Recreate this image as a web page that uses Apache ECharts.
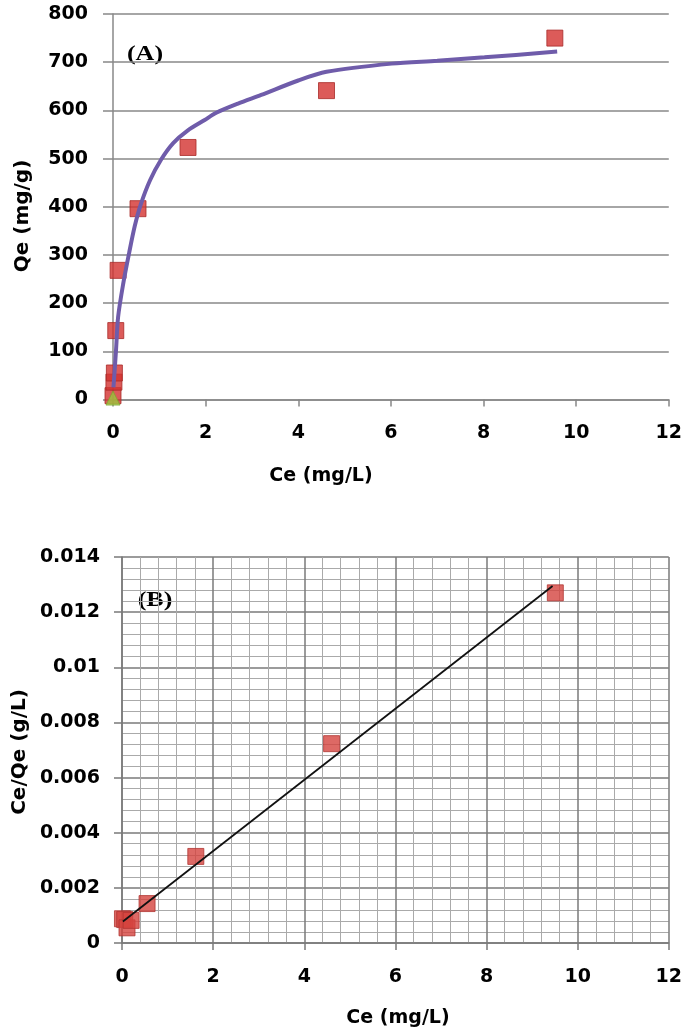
<!DOCTYPE html>
<html>
<head>
<meta charset="utf-8">
<script src="https://cdn.jsdelivr.net/npm/echarts@6/dist/echarts.min.js"></script>
<style>
  html, body { margin: 0; padding: 0; background: #fff; }
  #chart { width: 685px; height: 1035px; }
</style>
</head>
<body>
<div id="chart"></div>
<script>
// (A) Qe vs Ce, experimental points
const ceA = [0.0, 0.02, 0.03, 0.06, 0.11, 0.54, 1.62, 4.61, 9.54]
const qeA = [8, 36, 55, 143, 268, 396, 523, 641, 750]
// (A) fitted curve
const fitCeA = [0.01, 0.065, 0.11, 0.22, 0.35, 0.47, 0.6, 0.8, 1.04, 1.3, 1.61, 1.98, 2.23, 2.7, 3.2, 4.0, 4.61, 6.02, 7.0, 8.02, 9.59]
const fitQeA = [25, 102, 171, 240, 305, 360, 405, 455, 498, 532, 558, 580, 595, 614, 632, 662, 680, 697, 703, 710, 722]
// (A) green triangle at origin
const ceTri = [0.0]
const qeTri = [3]

// (B) Ce/Qe vs Ce
const ceB = [0.01, 0.06, 0.11, 0.2, 0.55, 1.62, 4.60, 9.51]
const ratioB = [0.00088, 0.00085, 0.00055, 0.00082, 0.00143, 0.00314, 0.00723, 0.0127]
// (B) linear fit end points
const fitCeB = [0.02, 9.45]
const fitRatioB = [0.00078, 0.01295]

const xTicks = [0, 2, 4, 6, 8, 10, 12]

const zip = (a, b) => a.map((v, i) => [v, b[i]])

const labelFont = {
  fontFamily: 'DejaVu Sans',
  fontWeight: 'bold',
  fontSize: 19,
  color: '#000'
}
const gridGray = '#888'
const gridGrayB = '#7a7a7a'

const textEl = (x, y, text, opts) => ({
  type: 'text', x, y,
  rotation: opts.rotation || 0,
  scaleX: opts.scaleX || 1,
  style: {
    text,
    fontFamily: opts.family || 'DejaVu Sans',
    fontWeight: 'bold',
    fontSize: opts.size || 19,
    fill: '#000',
    align: 'center',
    verticalAlign: 'middle'
  }
})

const chart = echarts.init(document.getElementById('chart'))

chart.setOption({
  animation: false,
  backgroundColor: '#fff',
  grid: [
    { left: 113, top: 14, width: 558, height: 385.5 },
    { left: 122, top: 557, width: 550, height: 386 }
  ],
  xAxis: [
    {
      gridIndex: 0, type: 'value', min: xTicks[0], max: xTicks[xTicks.length - 1], interval: 2,
      axisLine: { show: true, lineStyle: { color: gridGray, width: 1.5 } },
      axisTick: { show: true, length: 7, lineStyle: { color: gridGray, width: 1.5 } },
      axisLabel: { ...labelFont, margin: 24 },
      splitLine: { show: false }
    },
    {
      gridIndex: 1, type: 'value', min: xTicks[0], max: xTicks[xTicks.length - 1], interval: 2,
      axisLine: { show: true, lineStyle: { color: gridGrayB, width: 1.5 } },
      axisTick: { show: true, length: 7, lineStyle: { color: gridGrayB, width: 1.5 } },
      axisLabel: { ...labelFont, margin: 25 },
      splitLine: { show: true, lineStyle: { color: gridGrayB, width: 1.5 } },
      minorTick: { show: false, splitNumber: 5 },
      minorSplitLine: { show: true, lineStyle: { color: '#aaa', width: 1 } }
    }
  ],
  yAxis: [
    {
      gridIndex: 0, type: 'value', min: 0, max: 800, interval: 100,
      axisLine: { show: true, lineStyle: { color: gridGray, width: 1.5 } },
      axisTick: { show: true, length: 10, lineStyle: { color: gridGray, width: 1.5 } },
      axisLabel: { ...labelFont, margin: 25 },
      splitLine: { show: true, lineStyle: { color: gridGray, width: 1.5 } }
    },
    {
      gridIndex: 1, type: 'value', min: 0, max: 0.014, interval: 0.002,
      axisLine: { show: true, lineStyle: { color: gridGrayB, width: 1.5 } },
      axisTick: { show: true, length: 8, lineStyle: { color: gridGrayB, width: 1.5 } },
      axisLabel: { ...labelFont, margin: 22 },
      splitLine: { show: true, lineStyle: { color: gridGrayB, width: 1.5 } },
      minorTick: { show: false, splitNumber: 5 },
      minorSplitLine: { show: true, lineStyle: { color: '#aaa', width: 1 } }
    }
  ],
  series: [
    {
      name: 'exp A', type: 'scatter', xAxisIndex: 0, yAxisIndex: 0,
      symbol: 'rect', symbolSize: 16,
      itemStyle: { color: '#d3322f', borderColor: '#a82a28', borderWidth: 1 },
      data: zip(ceA, qeA)
    },
    {
      name: 'tri', type: 'scatter', xAxisIndex: 0, yAxisIndex: 0,
      symbol: 'triangle', symbolSize: 14,
      itemStyle: { color: '#9cc53e', borderColor: '#7fa630', borderWidth: 1 },
      data: zip(ceTri, qeTri)
    },
    {
      name: 'fit A', type: 'line', xAxisIndex: 0, yAxisIndex: 0,
      smooth: 0.3, showSymbol: false, z: 5,
      lineStyle: { color: '#6f5caa', width: 4 },
      data: zip(fitCeA, fitQeA)
    },
    {
      name: 'exp B', type: 'scatter', xAxisIndex: 1, yAxisIndex: 1,
      symbol: 'rect', symbolSize: 16,
      itemStyle: { color: '#d5443f', borderColor: '#b03632', borderWidth: 1 },
      data: zip(ceB, ratioB)
    },
    {
      name: 'fit B', type: 'line', xAxisIndex: 1, yAxisIndex: 1,
      showSymbol: false, z: 5,
      lineStyle: { color: '#111', width: 1.8 },
      data: zip(fitCeB, fitRatioB)
    }
  ],
  graphic: [
    textEl(145, 55, '(A)', { family: 'Liberation Serif', size: 20, scaleX: 1.3 }),
    textEl(155, 601, '(B)', { family: 'Liberation Serif', size: 20, scaleX: 1.3 }),
    textEl(321, 476, 'Ce (mg/L)', { size: 19 }),
    textEl(398, 1018, 'Ce (mg/L)', { size: 19 }),
    textEl(23, 216, 'Qe (mg/g)', { size: 20, rotation: Math.PI / 2 }),
    textEl(20, 752, 'Ce/Qe (g/L)', { size: 20, rotation: Math.PI / 2 })
  ]
})
</script>
</body>
</html>
